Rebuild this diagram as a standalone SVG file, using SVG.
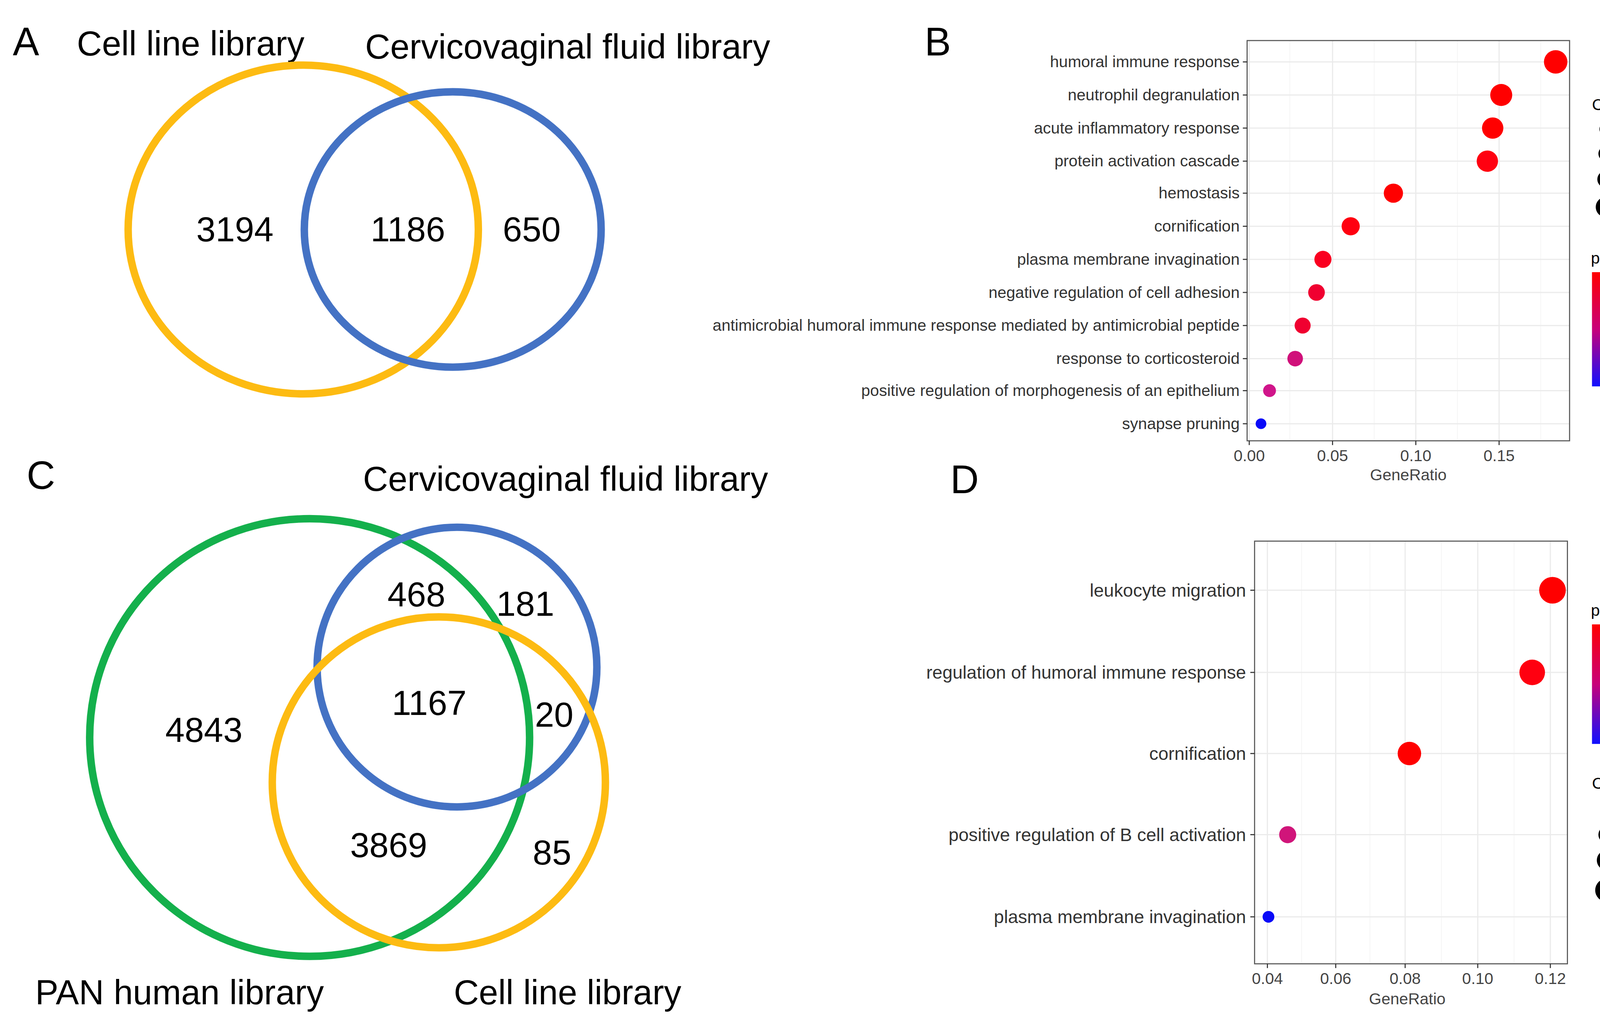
<svg xmlns="http://www.w3.org/2000/svg" width="4286" height="2625" viewBox="0 0 4286 2625">
<style>
.big{font-family:"Liberation Sans",Arial,sans-serif;font-size:32.5px;fill:#000}
.let{font-family:"Liberation Sans",Arial,sans-serif;font-size:37px;fill:#000}
.lab{font-family:"Liberation Sans Narrow","Liberation Sans",Arial,sans-serif;font-size:15px;fill:#333;text-anchor:end}
.labd{font-family:"Liberation Sans Narrow","Liberation Sans",Arial,sans-serif;font-size:17px;fill:#333;text-anchor:end}
.tk{font-family:"Liberation Sans Narrow","Liberation Sans",Arial,sans-serif;font-size:15px;fill:#444;text-anchor:middle}
.lg{font-family:"Liberation Sans Narrow","Liberation Sans",Arial,sans-serif;font-size:13px;fill:#333}
.lt{font-family:"Liberation Sans Narrow","Liberation Sans",Arial,sans-serif;font-size:15px;fill:#000}
.gmaj{stroke:#ebebeb;stroke-width:1.1}
.gmin{stroke:#f4f4f4;stroke-width:0.6}
.box{fill:none;stroke:#555;stroke-width:1}
.tick{stroke:#333;stroke-width:1}
.ven{fill:none;stroke-width:7}
</style>
<defs>
<linearGradient id="pg" x1="0" y1="0" x2="0" y2="1">
<stop offset="0" stop-color="#FF0000"/><stop offset="0.5" stop-color="#C8007A"/><stop offset="1" stop-color="#1010FF"/>
</linearGradient>
</defs>
<rect width="4286" height="2625" fill="#fff"/>
<g transform="scale(2.7334)">
<g id="panelA">
<text class="let" x="12" y="52">A</text>
<text class="big" x="72" y="52">Cell line library</text>
<text class="big" x="342" y="55">Cervicovaginal fluid library</text>
<ellipse class="ven" cx="284" cy="215" rx="164" ry="154" stroke="#FDBB12"/>
<ellipse class="ven" cx="424" cy="215" rx="139" ry="129" stroke="#4472C4"/>
<text class="big" x="220" y="226" text-anchor="middle">3194</text>
<text class="big" x="382" y="226" text-anchor="middle">1186</text>
<text class="big" x="498" y="226" text-anchor="middle">650</text>
</g>
<g id="panelB">
<text class="let" x="866" y="52">B</text>
<g>
<line class="gmin" x1="1208" y1="38" x2="1208" y2="413"/><line class="gmin" x1="1287" y1="38" x2="1287" y2="413"/><line class="gmin" x1="1365" y1="38" x2="1365" y2="413"/><line class="gmin" x1="1443" y1="38" x2="1443" y2="413"/>
<line class="gmaj" x1="1170" y1="38" x2="1170" y2="413"/><line class="gmaj" x1="1248" y1="38" x2="1248" y2="413"/><line class="gmaj" x1="1326" y1="38" x2="1326" y2="413"/><line class="gmaj" x1="1404" y1="38" x2="1404" y2="413"/>
<line class="gmaj" x1="1168" y1="58" x2="1470" y2="58"/><line class="gmaj" x1="1168" y1="89" x2="1470" y2="89"/><line class="gmaj" x1="1168" y1="120" x2="1470" y2="120"/><line class="gmaj" x1="1168" y1="151" x2="1470" y2="151"/><line class="gmaj" x1="1168" y1="181" x2="1470" y2="181"/><line class="gmaj" x1="1168" y1="212" x2="1470" y2="212"/><line class="gmaj" x1="1168" y1="243" x2="1470" y2="243"/><line class="gmaj" x1="1168" y1="274" x2="1470" y2="274"/><line class="gmaj" x1="1168" y1="305" x2="1470" y2="305"/><line class="gmaj" x1="1168" y1="336" x2="1470" y2="336"/><line class="gmaj" x1="1168" y1="366" x2="1470" y2="366"/><line class="gmaj" x1="1168" y1="397" x2="1470" y2="397"/>
</g>
<rect class="box" x="1168" y="38" width="302" height="375"/>
<g class="tick">
<line x1="1164" y1="58" x2="1168" y2="58"/><line x1="1164" y1="89" x2="1168" y2="89"/><line x1="1164" y1="120" x2="1168" y2="120"/><line x1="1164" y1="151" x2="1168" y2="151"/><line x1="1164" y1="181" x2="1168" y2="181"/><line x1="1164" y1="212" x2="1168" y2="212"/><line x1="1164" y1="243" x2="1168" y2="243"/><line x1="1164" y1="274" x2="1168" y2="274"/><line x1="1164" y1="305" x2="1168" y2="305"/><line x1="1164" y1="336" x2="1168" y2="336"/><line x1="1164" y1="366" x2="1168" y2="366"/><line x1="1164" y1="397" x2="1168" y2="397"/>
<line x1="1170" y1="413" x2="1170" y2="417"/><line x1="1248" y1="413" x2="1248" y2="417"/><line x1="1326" y1="413" x2="1326" y2="417"/><line x1="1404" y1="413" x2="1404" y2="417"/>
</g>
<text class="lab" x="1161" y="63">humoral immune response</text>
<text class="lab" x="1161" y="94">neutrophil degranulation</text>
<text class="lab" x="1161" y="125">acute inflammatory response</text>
<text class="lab" x="1161" y="156">protein activation cascade</text>
<text class="lab" x="1161" y="186">hemostasis</text>
<text class="lab" x="1161" y="217">cornification</text>
<text class="lab" x="1161" y="248">plasma membrane invagination</text>
<text class="lab" x="1161" y="279">negative regulation of cell adhesion</text>
<text class="lab" x="1161" y="310">antimicrobial humoral immune response mediated by antimicrobial peptide</text>
<text class="lab" x="1161" y="341">response to corticosteroid</text>
<text class="lab" x="1161" y="371">positive regulation of morphogenesis of an epithelium</text>
<text class="lab" x="1161" y="402">synapse pruning</text>
<circle cx="1457" cy="58" r="11" fill="#FF0000"/>
<circle cx="1406" cy="89" r="10.3" fill="#FF0000"/>
<circle cx="1398" cy="120" r="10" fill="#FF0000"/>
<circle cx="1393" cy="151" r="10" fill="#FF0010"/>
<circle cx="1305" cy="181" r="9" fill="#FF0000"/>
<circle cx="1265" cy="212" r="8.5" fill="#FF0010"/>
<circle cx="1239" cy="243" r="8" fill="#FA0020"/>
<circle cx="1233" cy="274" r="7.8" fill="#F00030"/>
<circle cx="1220" cy="305" r="7.5" fill="#F00030"/>
<circle cx="1213" cy="336" r="7.3" fill="#D0107A"/>
<circle cx="1189" cy="366" r="6" fill="#D0158A"/>
<circle cx="1181" cy="397" r="5" fill="#0A0AF8"/>
<text class="tk" x="1170" y="432">0.00</text><text class="tk" x="1248" y="432">0.05</text><text class="tk" x="1326" y="432">0.10</text><text class="tk" x="1404" y="432">0.15</text>
<text class="tk" x="1319" y="450" fill="#000">GeneRatio</text>
<text class="lt" x="1491" y="103">Count</text>
<circle cx="1504" cy="121" r="6" fill="#000"/><circle cx="1504" cy="144" r="7" fill="#000"/><circle cx="1504" cy="168" r="8" fill="#000"/><circle cx="1504" cy="194" r="9.5" fill="#000"/>
<text class="lg" x="1525" y="125">25</text><text class="lg" x="1525" y="148">50</text><text class="lg" x="1525" y="172">75</text><text class="lg" x="1525" y="198">100</text>
<text class="lt" x="1490" y="247">p.adjust</text>
<rect x="1491" y="255" width="20" height="107" fill="url(#pg)"/>
<text class="lg" x="1520" y="294">0.002</text><text class="lg" x="1520" y="328">0.004</text><text class="lg" x="1520" y="362">0.006</text>
</g>
<g id="panelC">
<text class="let" x="25" y="458">C</text>
<text class="big" x="340" y="460">Cervicovaginal fluid library</text>
<ellipse class="ven" cx="290" cy="691" rx="206" ry="205" stroke="#14B04C"/>
<ellipse class="ven" cx="428" cy="625" rx="131" ry="131" stroke="#4472C4"/>
<ellipse class="ven" cx="411" cy="733" rx="156" ry="155" stroke="#FDBB12"/>
<text class="big" x="390" y="568" text-anchor="middle">468</text>
<text class="big" x="492" y="577" text-anchor="middle">181</text>
<text class="big" x="402" y="670" text-anchor="middle">1167</text>
<text class="big" x="519" y="681" text-anchor="middle">20</text>
<text class="big" x="191" y="695" text-anchor="middle">4843</text>
<text class="big" x="364" y="803" text-anchor="middle">3869</text>
<text class="big" x="517" y="810" text-anchor="middle">85</text>
<text class="big" x="33" y="941">PAN human library</text>
<text class="big" x="425" y="941">Cell line library</text>
</g>
<g id="panelD">
<text class="let" x="890" y="462">D</text>
<g>
<line class="gmin" x1="1219" y1="507" x2="1219" y2="903"/><line class="gmin" x1="1283" y1="507" x2="1283" y2="903"/><line class="gmin" x1="1350" y1="507" x2="1350" y2="903"/><line class="gmin" x1="1418" y1="507" x2="1418" y2="903"/>
<line class="gmaj" x1="1187" y1="507" x2="1187" y2="903"/><line class="gmaj" x1="1251" y1="507" x2="1251" y2="903"/><line class="gmaj" x1="1316" y1="507" x2="1316" y2="903"/><line class="gmaj" x1="1384" y1="507" x2="1384" y2="903"/><line class="gmaj" x1="1452" y1="507" x2="1452" y2="903"/>
<line class="gmaj" x1="1175" y1="553" x2="1468" y2="553"/><line class="gmaj" x1="1175" y1="630" x2="1468" y2="630"/><line class="gmaj" x1="1175" y1="706" x2="1468" y2="706"/><line class="gmaj" x1="1175" y1="782" x2="1468" y2="782"/><line class="gmaj" x1="1175" y1="859" x2="1468" y2="859"/>
</g>
<rect class="box" x="1175" y="507" width="293" height="396"/>
<g class="tick">
<line x1="1171" y1="553" x2="1175" y2="553"/><line x1="1171" y1="630" x2="1175" y2="630"/><line x1="1171" y1="706" x2="1175" y2="706"/><line x1="1171" y1="782" x2="1175" y2="782"/><line x1="1171" y1="859" x2="1175" y2="859"/>
<line x1="1187" y1="903" x2="1187" y2="907"/><line x1="1251" y1="903" x2="1251" y2="907"/><line x1="1316" y1="903" x2="1316" y2="907"/><line x1="1384" y1="903" x2="1384" y2="907"/><line x1="1452" y1="903" x2="1452" y2="907"/>
</g>
<text class="labd" x="1167" y="559">leukocyte migration</text>
<text class="labd" x="1167" y="636">regulation of humoral immune response</text>
<text class="labd" x="1167" y="712">cornification</text>
<text class="labd" x="1167" y="788">positive regulation of B cell activation</text>
<text class="labd" x="1167" y="865">plasma membrane invagination</text>
<circle cx="1454" cy="553" r="12.5" fill="#FF0000"/>
<circle cx="1435" cy="630" r="12" fill="#FF0010"/>
<circle cx="1320" cy="706" r="11" fill="#FF0000"/>
<circle cx="1206" cy="782" r="8" fill="#D0157A"/>
<circle cx="1188" cy="859" r="5.5" fill="#0A0AF8"/>
<text class="tk" x="1187" y="922">0.04</text><text class="tk" x="1251" y="922">0.06</text><text class="tk" x="1316" y="922">0.08</text><text class="tk" x="1384" y="922">0.10</text><text class="tk" x="1452" y="922">0.12</text>
<text class="tk" x="1318" y="941" fill="#000">GeneRatio</text>
<text class="lt" x="1490" y="577">p.adjust</text>
<rect x="1491" y="585" width="20" height="112" fill="url(#pg)"/>
<text class="lg" x="1521" y="619">0.0025</text><text class="lg" x="1521" y="652">0.0050</text><text class="lg" x="1521" y="684">0.0075</text>
<text class="lt" x="1491" y="739">Count</text>
<circle cx="1505" cy="759" r="6" fill="#000"/><circle cx="1505" cy="782" r="8" fill="#000"/><circle cx="1505" cy="806" r="9.5" fill="#000"/><circle cx="1505" cy="834" r="11" fill="#000"/>
<text class="lg" x="1524" y="763">8</text><text class="lg" x="1524" y="786">12</text><text class="lg" x="1524" y="810">16</text><text class="lg" x="1524" y="838">20</text>
</g>
</g>
</svg>
